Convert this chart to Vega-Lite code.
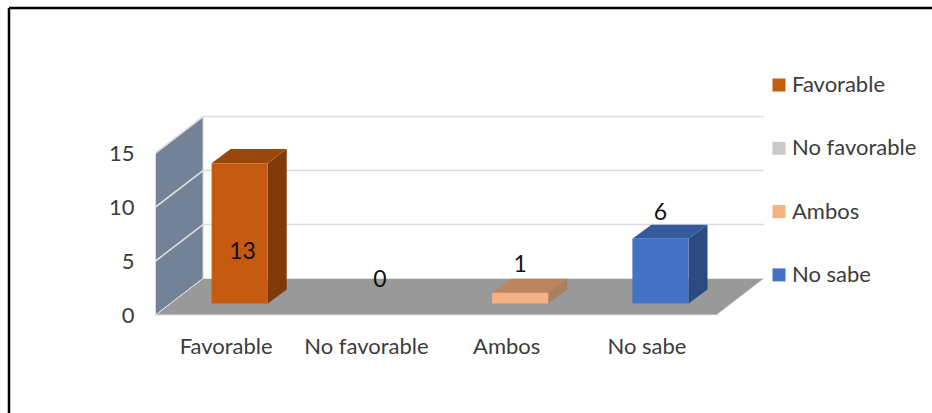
{
"$schema":"https://vega.github.io/schema/vega-lite/v6.json",
"width":932,"height":413,
"autosize":{"type":"none"},
"padding":0,
"background":"white",
"config":{"view":{"stroke":null},"font":"Lato"},
"datasets":{"bars":[
{"category":"Favorable","value":13,"slot":0},
{"category":"No favorable","value":0,"slot":1},
{"category":"Ambos","value":1,"slot":2},
{"category":"No sabe","value":6,"slot":3}
]},
"resolve":{"scale":{"color":"independent"}},
"layer":[
{"data":{"values":[{"face":"wall"}]},
 "transform":[{"calculate":"0","as":"a"},{"calculate":"0.339","as":"b"},{"fold":["a","b"],"as":["pt","wx"]},
  {"calculate":"3.38*datum.wx/0.339","as":"wy"},{"calculate":"15+3.38*datum.wx/0.339","as":"wy2"}],
 "mark":{"type":"area","color":"#738296","stroke":"#dcdcdc","strokeWidth":1},
 "encoding":{
  "x":{"field":"wx","type":"quantitative","scale":{"domain":[-1.1087,5.536],"nice":false,"zero":false},
   "axis":{"orient":"bottom","offset":-98,"values":[0.5,1.5,2.5,3.5],"labelExpr":"['Favorable','No favorable','Ambos','No sabe'][floor(datum.value)]","title":null,"domain":false,"ticks":false,"grid":false,"labelFontSize":22,"labelColor":"#3c3c3c","labelPadding":21,"labelFont":"Lato","labelFlush":false,"labelOverlap":false}},
  "y":{"field":"wy","type":"quantitative","scale":{"domain":[-9.074,29.167],"nice":false,"zero":false},
   "axis":{"orient":"left","offset":-134,"values":[0,5,10,15],"title":null,"domain":false,"ticks":false,"grid":false,"labelFontSize":22,"labelColor":"#3c3c3c","labelPadding":0,"labelFont":"Lato","labelOverlap":false}},
  "y2":{"field":"wy2"}}},
{"data":{"values":[{"face":"floor"}]},
 "transform":[{"calculate":"0","as":"a"},{"calculate":"0.339","as":"b"},{"calculate":"4","as":"c"},{"calculate":"4.339","as":"d"},{"fold":["a","b","c","d"],"as":["pt","fx"]},
  {"calculate":"3.38*max(0,(datum.fx-4)/0.339)","as":"fy"},{"calculate":"3.38*min(1,datum.fx/0.339)","as":"fy2"}],
 "mark":{"type":"area","color":"#999999","stroke":"#e2e2e2","strokeWidth":1},
 "encoding":{"x":{"field":"fx","type":"quantitative","axis":{"title":null}},"y":{"field":"fy","type":"quantitative","axis":{"title":null}},"y2":{"field":"fy2"}}},
{"data":{"values":[{"tick":5},{"tick":10},{"tick":15}]},
 "transform":[{"calculate":"0","as":"a"},{"calculate":"0.339","as":"b"},{"calculate":"4.339","as":"c"},{"fold":["a","b","c"],"as":["pt","gx"]},
  {"calculate":"datum.tick+3.38*min(1,datum.gx/0.339)","as":"gy"}],
 "mark":{"type":"line","color":"#dcdcdc","strokeWidth":1.6},
 "encoding":{"x":{"field":"gx","type":"quantitative","axis":{"title":null}},"y":{"field":"gy","type":"quantitative","axis":{"title":null}},"detail":{"field":"tick"}}},
{"data":{"name":"bars"},
 "transform":[{"filter":"datum.value>0"},{"calculate":"datum.slot+0.8","as":"a"},{"calculate":"datum.slot+0.9355","as":"b"},{"fold":["a","b"],"as":["pt","sx"]},
  {"calculate":"1.06+1.3*(datum.sx-datum.slot-0.8)/0.1355","as":"sy"},{"calculate":"1.06+datum.value+1.3*(datum.sx-datum.slot-0.8)/0.1355","as":"sy2"}],
 "mark":{"type":"area"},
 "encoding":{"x":{"field":"sx","type":"quantitative","axis":{"title":null}},"y":{"field":"sy","type":"quantitative","axis":{"title":null}},"y2":{"field":"sy2"},
  "color":{"field":"category","type":"nominal","legend":null,"scale":{"domain":["Favorable","No favorable","Ambos","No sabe"],"range":["#7f3a08","#8a8a8a","#a9805f","#2a4a80"]}}}},
{"data":{"name":"bars"},
 "transform":[{"filter":"datum.value>0"},{"calculate":"datum.slot+0.4","as":"a"},{"calculate":"datum.slot+0.5355","as":"b"},{"calculate":"datum.slot+0.8","as":"c"},{"calculate":"datum.slot+0.9355","as":"d"},{"fold":["a","b","c","d"],"as":["pt","tx"]},
  {"calculate":"1.06+datum.value+1.3*max(0,(datum.tx-datum.slot-0.8)/0.1355)","as":"ty"},{"calculate":"1.06+datum.value+1.3*min(1,(datum.tx-datum.slot-0.4)/0.1355)","as":"ty2"}],
 "mark":{"type":"area"},
 "encoding":{"x":{"field":"tx","type":"quantitative","axis":{"title":null}},"y":{"field":"ty","type":"quantitative","axis":{"title":null}},"y2":{"field":"ty2"},
  "color":{"field":"category","type":"nominal","legend":null,"scale":{"domain":["Favorable","No favorable","Ambos","No sabe"],"range":["#98480a","#9a9a9a","#bb8560","#335a9c"]}}}},
{"data":{"name":"bars"},
 "transform":[{"calculate":"datum.slot+0.4","as":"x0"},{"calculate":"datum.slot+0.8","as":"x1"},{"calculate":"1.06","as":"b0"},{"calculate":"1.06+datum.value","as":"b1"}],
 "mark":{"type":"rect"},
 "encoding":{"x":{"field":"x0","type":"quantitative","axis":{"title":null}},"x2":{"field":"x1"},"y":{"field":"b0","type":"quantitative","axis":{"title":null}},"y2":{"field":"b1"},
  "color":{"field":"category","type":"nominal","scale":{"domain":["Favorable","No favorable","Ambos","No sabe"],"range":["#c55a11","#c9c9c9","#f4b183","#4472c4"]},
   "legend":{"orient":"none","legendX":768,"legendY":74,"title":null,"symbolType":"square","symbolSize":169,"symbolStrokeWidth":0,"labelFontSize":22,"labelColor":"#3c3c3c","labelFont":"Lato","labelOffset":2,"rowPadding":41.3,"labelLimit":200}}}},
{"data":{"name":"bars"},
 "transform":[{"calculate":"datum.value>10?datum.slot+0.62:datum.slot+0.6","as":"lx"},{"calculate":"datum.value>10?5.83:datum.value==0?3.2:datum.value==1?4.65:9.46","as":"ly"}],
 "mark":{"type":"text","fontSize":23,"font":"Lato","color":"#111111","align":"center","baseline":"middle"},
 "encoding":{"x":{"field":"lx","type":"quantitative","axis":{"title":null}},"y":{"field":"ly","type":"quantitative","axis":{"title":null}},"text":{"field":"value","type":"quantitative"}}},
{"data":{"values":[{"edge":"left"}]},
 "mark":{"type":"rule","color":"#000000","strokeWidth":2.5},
 "encoding":{"x":{"datum":-1.0446,"type":"quantitative","axis":{"title":null}},"y":{"datum":-9.074,"type":"quantitative","axis":{"title":null}},"y2":{"datum":28.426}}},
{"data":{"values":[{"edge":"top"}]},
 "mark":{"type":"rule","color":"#000000","strokeWidth":2.5},
 "encoding":{"y":{"datum":28.426,"type":"quantitative","axis":{"title":null}},"x":{"datum":-1.0446,"type":"quantitative","axis":{"title":null}},"x2":{"datum":5.536}}}
]
}
